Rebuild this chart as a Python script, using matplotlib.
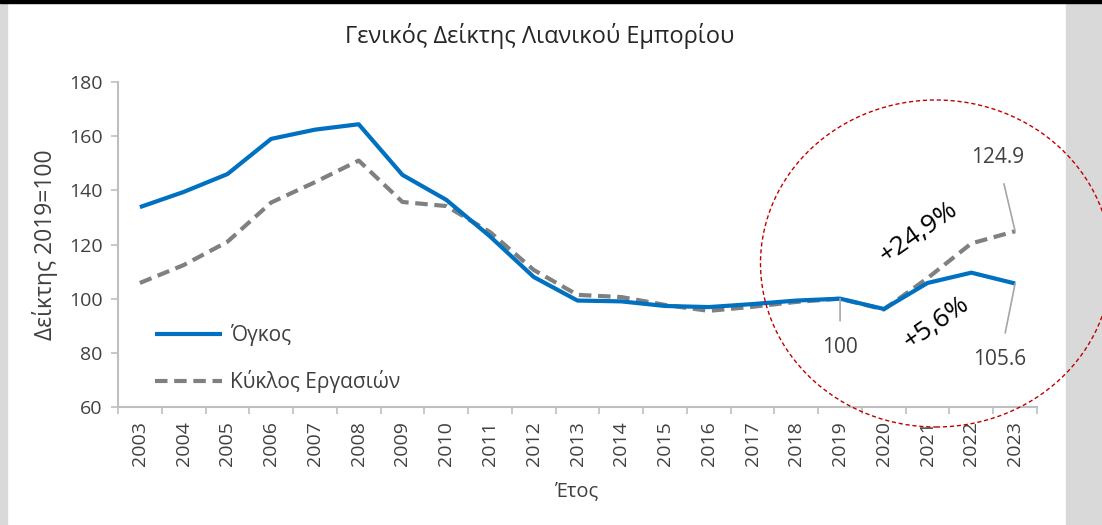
import matplotlib.pyplot as plt
from matplotlib.patches import Ellipse, Rectangle

plt.rcParams['font.family'] = ['Open Sans', 'DejaVu Sans']

years = [str(y) for y in range(2003, 2024)]
volume = [133.8, 139.4, 146.0, 159.0, 162.4, 164.4, 145.7, 136.5, 123.0, 108.0,
          99.3, 99.0, 97.3, 96.9, 98.0, 99.3, 100.0, 96.2, 105.8, 109.6, 105.6]
turnover = [105.8, 112.4, 121.0, 135.5, 143.0, 151.0, 135.7, 134.2, 124.6, 110.6,
            101.4, 100.6, 97.7, 95.5, 97.0, 98.8, 100.0, 96.0, 107.6, 120.4, 124.9]

txt = '#404040'
axc = '#bfbfbf'

fig = plt.figure(figsize=(11.02, 5.25), dpi=100)
# frame decorations
fig.patches.append(Rectangle((0, 0), 7 / 1102, 1, transform=fig.transFigure, color='#d9d9d9', zorder=0))
fig.patches.append(Rectangle((1066 / 1102, 0), 36 / 1102, 1, transform=fig.transFigure, color='#d9d9d9', zorder=0))
fig.patches.append(Rectangle((0, 1 - 3 / 525), 1, 3 / 525, transform=fig.transFigure, color='black', zorder=0))

ax = fig.add_axes([118 / 1102, 1 - 407 / 525, (1037 - 118) / 1102, (407 - 82) / 525])
x = list(range(len(years)))
ax.plot(x, volume, color='#0070c0', lw=3, label='Όγκος', solid_capstyle='butt', zorder=3)
ax.plot(x, turnover, color='#808080', lw=3, ls=(0, (3, 1.6)), label='Κύκλος Εργασιών', zorder=2)

ax.set_xlim(-0.5, len(years) - 0.5)
ax.set_ylim(60, 180)
ax.set_yticks(range(60, 181, 20))
ax.set_xticks(x)
ax.set_xticklabels(years, rotation=90)
ax.set_xticks([i - 0.5 for i in range(len(years) + 1)], minor=True)
ax.tick_params(axis='x', which='major', length=0, pad=10, labelsize=14, labelcolor=txt)
ax.tick_params(axis='x', which='minor', length=5, color=axc, width=1.2)
ax.tick_params(axis='y', length=5, color=axc, width=1.2, labelsize=14, labelcolor=txt, pad=6)
for s in ['top', 'right']:
    ax.spines[s].set_visible(False)
for s in ['left', 'bottom']:
    ax.spines[s].set_color(axc)
    ax.spines[s].set_linewidth(1.5)

ax.set_ylabel('Δείκτης 2019=100', fontsize=16.5, color=txt, labelpad=8)
ax.set_xlabel('Έτος', fontsize=14.5, color=txt, labelpad=11)
fig.text(540 / 1102, 1 - 36 / 525, 'Γενικός Δείκτης Λιανικού Εμπορίου', ha='center', va='center',
         fontsize=17, color='#262626')

leg = ax.legend(loc='lower left', bbox_to_anchor=(0.02, -0.015), frameon=False, fontsize=15,
                handlelength=3.2, labelspacing=1.15, handletextpad=0.4)
for t in leg.get_texts():
    t.set_color(txt)

# annotations
i19, i23 = years.index('2019'), years.index('2023')
lc = dict(arrowstyle='-', color='#a6a6a6', lw=1.2, shrinkB=0, shrinkA=10)
ax.annotate('100', xy=(i19, volume[i19]), xytext=(i19, 81.8), ha='center', va='center', fontsize=15,
            color=txt, arrowprops=lc)
ax.annotate(f'{volume[i23]:.1f}', xy=(i23, volume[i23]), xytext=(19.65, 77.4), ha='center', va='center',
            fontsize=15, color=txt, arrowprops=lc)
ax.annotate(f'{turnover[i23]:.1f}', xy=(i23, turnover[i23]), xytext=(19.6, 152.3), ha='center', va='center',
            fontsize=15, color=txt, arrowprops=lc)
ax.text(17.8, 124.3, '+24,9%', rotation=35, ha='center', va='center', fontsize=19, color='black')
ax.text(18.2, 91.0, '+5,6%', rotation=35, ha='center', va='center', fontsize=19, color='black')

ell = Ellipse((936 / 1102, 1 - 263.5 / 525), 351 / 1102, 327 / 525, transform=fig.transFigure,
              fill=False, edgecolor='#c00000', ls=(0, (3, 2)), lw=1, zorder=5)
fig.patches.append(ell)

fig.savefig('out.png', dpi=100)
